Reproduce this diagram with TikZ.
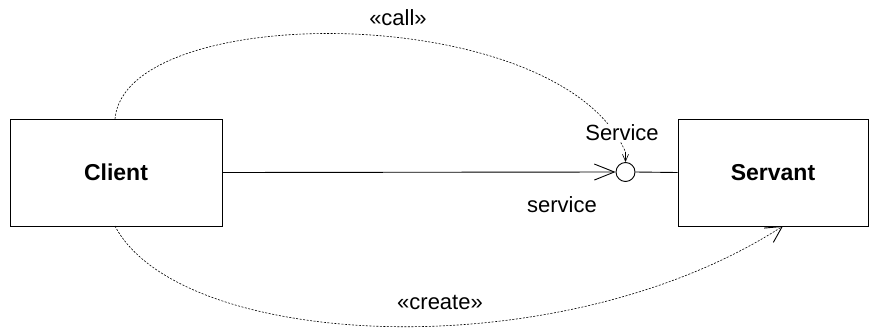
\documentclass[tikz,border=0pt]{standalone}
\usepackage{fontspec}
\setmainfont{Liberation Sans}
\usetikzlibrary{arrows.meta}
\begin{document}
\begin{tikzpicture}[x=1pt,y=-1pt,
  cls/.style={draw,line width=0.9pt,minimum width=212pt,minimum height=107pt,inner sep=0pt,font=\fontsize{23}{26}\selectfont\bfseries},
  lbl/.style={font=\fontsize{22}{25}\selectfont,inner sep=1pt},
  dep/.style={line width=0.6pt,dash pattern=on 2pt off 1.5pt},
  bigv/.style={-{Straight Barb[length=20pt,width=16pt,line width=0.9pt]}},
  smallv/.style={-{Straight Barb[length=7pt,width=6pt,line width=0.6pt]}},
  crv/.style={-{Straight Barb[length=16pt,width=17pt,line width=0.9pt]}}]
\useasboundingbox (0,0) rectangle (878,327);
\node[cls] (client) at (116,172.5) {Client};
\node[cls,minimum width=190pt] (servant) at (773,172.5) {Servant};
\node[draw,circle,line width=0.9pt,minimum size=19pt,inner sep=0pt] (iface) at (625.5,172) {};
\draw[line width=0.9pt,bigv] (client.east) -- (iface.west);
\draw[line width=0.9pt] (iface.east) -- (servant.west);
\coordinate (cs) at (115,119);
\coordinate (cb) at (115,226);
\coordinate (st) at (783,226);
\coordinate (vtop) at ([yshift=10pt]iface.north);
\draw[dep] (cs) .. controls (125,0) and (560,0) .. (vtop);
\node[lbl,fill=white] (svc) at (622,133) {Service};
\draw[line width=0.6pt,smallv] (vtop) -- (iface.north);
\draw[dep,crv] (cb) .. controls (180,350) and (560,370) .. (st);
\node[lbl] (call) at (398,18) {«call»};
\node[lbl] (svcl) at (562,205) {service};
\node[lbl] (create) at (440,302) {«create»};
\end{tikzpicture}
\end{document}
